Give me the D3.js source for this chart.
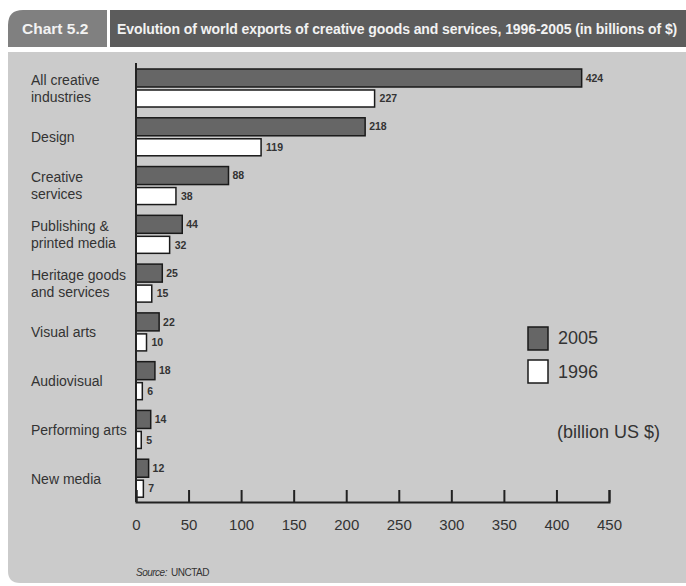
<!DOCTYPE html>
<html lang="en">
<head>
<meta charset="utf-8">
<title>Chart 5.2</title>
<script src="https://cdn.jsdelivr.net/npm/d3@7"></script>
<style>
  body { margin: 0; background: #fff; }
  svg text { font-family: "Liberation Sans", Arial, sans-serif; }
  .axis path, .axis line { stroke: #222; stroke-width: 2; fill: none; }
  .axis text { font-size: 15px; fill: #333; }
</style>
</head>
<body>
<div id="chart"></div>
<script>
// data
var categories = [
  ["All creative", "industries"],
  ["Design"],
  ["Creative", "services"],
  ["Publishing &", "printed media"],
  ["Heritage goods", "and services"],
  ["Visual arts"],
  ["Audiovisual"],
  ["Performing arts"],
  ["New media"]
];
var values2005 = [424, 218, 88, 44, 25, 22, 18, 14, 12];
var values1996 = [227, 119, 38, 32, 15, 10, 6, 5, 7];
var tickValues = [0, 50, 100, 150, 200, 250, 300, 350, 400, 450];
var seriesNames = ["2005", "1996"];

var w = 686, h = 586;
var svg = d3.select("#chart").append("svg")
  .attr("width", w).attr("height", h);

// header: tab + dark band
svg.append("path")
  .attr("d", "M8,47 L8,25 Q8,10 23,10 L107,10 L107,47 Z")
  .attr("fill", "#808080");
svg.append("rect")
  .attr("x", 110).attr("y", 10).attr("width", w - 110).attr("height", 37)
  .attr("fill", "#5c5c5c");
svg.append("text")
  .attr("x", 22).attr("y", 34)
  .attr("font-size", "15.5px").attr("font-weight", "bold").attr("fill", "#f2f2f2")
  .text("Chart 5.2");
svg.append("text")
  .attr("x", 117).attr("y", 34)
  .attr("font-size", "14px").attr("font-weight", "bold").attr("fill", "#f2f2f2")
  .attr("letter-spacing", "-0.08px")
  .text("Evolution of world exports of creative goods and services, 1996-2005 (in billions of $)");

// gray panel
svg.append("path")
  .attr("d", "M8,52 L" + w + ",52 L" + w + ",583 L20,583 Q8,583 8,571 Z")
  .attr("fill", "#cbcbcb");

var x = d3.scaleLinear().domain([0, 450]).range([136, 609]);
var y = d3.scaleBand().domain(d3.range(categories.length)).range([63, 502]);
var bw = y.bandwidth();

// bars
var g = svg.selectAll("g.cat").data(categories).enter().append("g").attr("class", "cat");

g.append("rect")
  .attr("x", x(0))
  .attr("y", function(d, i) { return y(i) + 6; })
  .attr("width", function(d, i) { return x(values2005[i]) - x(0); })
  .attr("height", 18)
  .attr("fill", "#666").attr("stroke", "#1a1a1a").attr("stroke-width", 1.5);

g.append("rect")
  .attr("x", x(0))
  .attr("y", function(d, i) { return y(i) + 27; })
  .attr("width", function(d, i) { return x(values1996[i]) - x(0); })
  .attr("height", 17)
  .attr("fill", "#fff").attr("stroke", "#1a1a1a").attr("stroke-width", 1.5);

// value labels
g.append("text")
  .attr("x", function(d, i) { return x(values2005[i]) + 4; })
  .attr("y", function(d, i) { return y(i) + 15; })
  .attr("dy", "0.35em")
  .attr("font-size", "10.5px").attr("font-weight", "bold").attr("fill", "#333")
  .text(function(d, i) { return values2005[i]; });

g.append("text")
  .attr("x", function(d, i) { return x(values1996[i]) + 5; })
  .attr("y", function(d, i) { return y(i) + 35.5; })
  .attr("dy", "0.35em")
  .attr("font-size", "10.5px").attr("font-weight", "bold").attr("fill", "#333")
  .text(function(d, i) { return values1996[i]; });

// category labels
g.append("text")
  .attr("x", 31)
  .attr("font-size", "14px").attr("fill", "#333")
  .each(function(d, i) {
    var t = d3.select(this);
    var cy = y(i) + bw / 2 + 1;
    d.forEach(function(line, j) {
      t.append("tspan")
        .attr("x", 31)
        .attr("y", cy + (j - (d.length - 1) / 2) * 17)
        .attr("dy", "0.35em")
        .text(line);
    });
  });

// axes
svg.append("line")
  .attr("x1", x(0)).attr("x2", x(0)).attr("y1", 63).attr("y2", 502)
  .attr("stroke", "#222").attr("stroke-width", 2);

var xAxis = d3.axisBottom(x).tickValues(tickValues).tickSize(-12).tickSizeOuter(-12).tickPadding(17);
svg.append("g")
  .attr("class", "axis")
  .attr("transform", "translate(0,502)")
  .call(xAxis);

// legend
var legend = svg.append("g");
var legendFill = ["#666", "#fff"];
seriesNames.forEach(function(name, i) {
  legend.append("rect")
    .attr("x", 528).attr("y", 327 + i * 33)
    .attr("width", 20).attr("height", 23)
    .attr("fill", legendFill[i]).attr("stroke", "#1a1a1a").attr("stroke-width", 1.5);
  legend.append("text")
    .attr("x", 558).attr("y", 338 + i * 34).attr("dy", "0.35em")
    .attr("font-size", "18px").attr("fill", "#333")
    .text(name);
});
svg.append("text")
  .attr("x", 557).attr("y", 432).attr("dy", "0.35em")
  .attr("font-size", "18px").attr("fill", "#333")
  .text("(billion US $)");

// source
var src = svg.append("text")
  .attr("x", 136).attr("y", 572).attr("dy", "0.35em")
  .attr("font-size", "10px").attr("fill", "#333").attr("letter-spacing", "-0.5px");
src.append("tspan").attr("font-style", "italic").text("Source:");
src.append("tspan").attr("dx", 4).text("UNCTAD");
</script>
</body>
</html>
